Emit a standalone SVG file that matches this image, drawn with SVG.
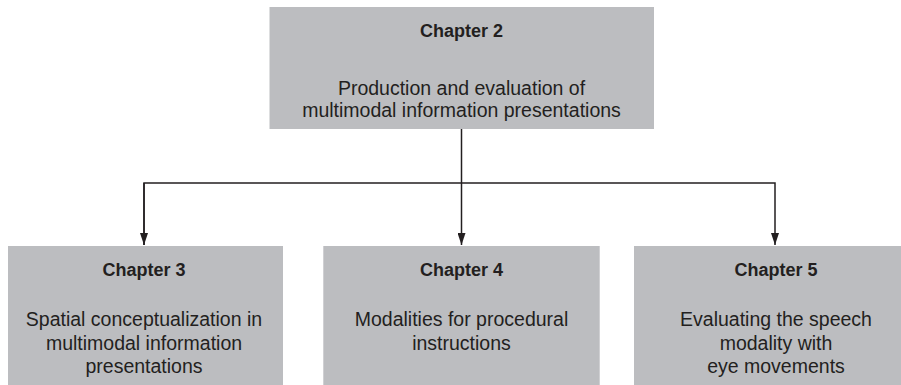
<svg xmlns="http://www.w3.org/2000/svg" width="901" height="385" viewBox="0 0 901 385">
<style>
.box{fill:#bcbdc0}
.h{font-family:"Liberation Sans",Arial,sans-serif;font-weight:bold;font-size:18px;fill:#231f20;text-anchor:middle}
.t{font-family:"Liberation Sans",Arial,sans-serif;font-size:19.5px;fill:#231f20;text-anchor:middle}
.ln{fill:none;stroke:#231f20;stroke-width:1.5}
</style>
<defs>
<marker id="arr" viewBox="0 0 12 8" refX="12" refY="4" markerWidth="12" markerHeight="8" markerUnits="userSpaceOnUse" orient="auto">
<path d="M0,0 L12,4 L0,8 Z" fill="#231f20"/>
</marker>
</defs>
<g id="connectors">
<line class="ln" x1="461.5" y1="129" x2="461.5" y2="245" marker-end="url(#arr)"/>
<polyline class="ln" points="144,245 144,183 775,183 775,245" marker-end="url(#arr)"/>
<line class="ln" x1="144" y1="183" x2="144" y2="245" marker-end="url(#arr)"/>
</g>
<g id="ch2">
<rect class="box" x="269.5" y="7" width="384.5" height="122"/>
<text class="h" x="461.5" y="37">Chapter 2</text>
<text class="t" x="461.5" y="95">Production and evaluation of</text>
<text class="t" x="461.5" y="117">multimodal information presentations</text>
</g>
<g id="ch3">
<rect class="box" x="8" y="246" width="275" height="139"/>
<text class="h" x="144" y="276">Chapter 3</text>
<text class="t" x="144" y="326">Spatial conceptualization in</text>
<text class="t" x="144" y="350">multimodal information</text>
<text class="t" x="144" y="373">presentations</text>
</g>
<g id="ch4">
<rect class="box" x="323.3" y="246" width="276.4" height="139"/>
<text class="h" x="461.5" y="276">Chapter 4</text>
<text class="t" x="461.5" y="326">Modalities for procedural</text>
<text class="t" x="461.5" y="350">instructions</text>
</g>
<g id="ch5">
<rect class="box" x="634" y="246" width="267" height="139"/>
<text class="h" x="776" y="276">Chapter 5</text>
<text class="t" x="776" y="326">Evaluating the speech</text>
<text class="t" x="776" y="350">modality with</text>
<text class="t" x="776" y="373">eye movements</text>
</g>
</svg>
